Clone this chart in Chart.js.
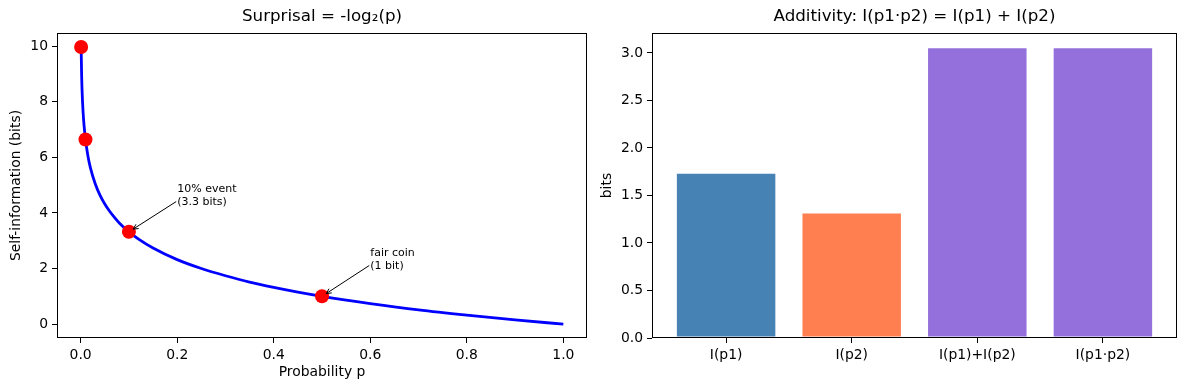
<!DOCTYPE html>
<html>
<head>
<meta charset="utf-8">
<script src="https://cdn.jsdelivr.net/npm/chart.js@4.4.1/dist/chart.umd.min.js"></script>
<style>
  html, body { margin: 0; padding: 0; background: #fff; }
  #wrap { position: relative; width: 1189px; height: 390px; }
  #left { position: absolute; left: 0; top: 0; }
  #right { position: absolute; left: 595px; top: 0; }
</style>
</head>
<body>
<div id="wrap">
  <canvas id="left" width="595" height="390"></canvas>
  <canvas id="right" width="594" height="390"></canvas>
</div>
<script>
// Left panel: surprisal curve
const probs = [0.001, 0.002, 0.003, 0.005, 0.007, 0.01, 0.015, 0.02, 0.03, 0.04, 0.05,
    0.06, 0.07, 0.08, 0.1, 0.12, 0.15, 0.2, 0.25, 0.3, 0.35, 0.4, 0.45, 0.5,
    0.6, 0.7, 0.8, 0.9, 1.0];
const surprisal = [9.97, 8.97, 8.38, 7.64, 7.16, 6.64, 6.06, 5.64, 5.06, 4.64, 4.32,
    4.06, 3.84, 3.64, 3.32, 3.06, 2.74, 2.32, 2.0, 1.74, 1.51, 1.32, 1.15, 1.0,
    0.74, 0.51, 0.32, 0.15, 0.0];

// Highlighted events
const markerProbs = [0.001, 0.01, 0.1, 0.5];
const markerBits = [9.97, 6.64, 3.32, 1.0];

// Annotations: text, text anchor (data coords), arrow target
const noteTexts = [['10% event', '(3.3 bits)'], ['fair coin', '(1 bit)']];
const noteAnchors = [[0.2, 4.3], [0.6, 2.0]];
const noteTargets = [[0.1, 3.32], [0.5, 1.0]];

// Right panel: additivity bars
const barLabels = ['I(p1)', 'I(p2)', 'I(p1)+I(p2)', 'I(p1\u00b7p2)'];
const barValues = [1.74, 1.32, 3.06, 3.06];
const barColors = ['#4682B4', '#FF7F50', '#9370DB', '#9370DB'];

const FONT = 'DejaVu Sans';
Chart.defaults.font.family = FONT;
Chart.defaults.color = '#000';

// draws the full box around the plot area, like matplotlib spines
const framePlugin = {
    id: 'frame',
    afterDatasetsDraw(chart) {
        const a = chart.chartArea;
        const ctx = chart.ctx;
        ctx.save();
        ctx.strokeStyle = '#000';
        ctx.lineWidth = 1;
        ctx.strokeRect(Math.round(a.left) + 0.5, Math.round(a.top) + 0.5,
            Math.round(a.right - a.left) - 1, Math.round(a.bottom - a.top) - 1);
        ctx.restore();
    }
};

// text + arrow annotations on the left panel
const notePlugin = {
    id: 'notes',
    afterDatasetsDraw(chart) {
        const ctx = chart.ctx;
        const xs = chart.scales.x, ys = chart.scales.y;
        ctx.save();
        ctx.font = '11px "' + FONT + '"';
        ctx.fillStyle = '#000';
        ctx.strokeStyle = '#000';
        ctx.lineWidth = 1;
        ctx.textBaseline = 'alphabetic';
        noteTexts.forEach((lines, i) => {
            const tx = xs.getPixelForValue(noteAnchors[i][0]);
            const ty = ys.getPixelForValue(noteAnchors[i][1]);
            lines.forEach((line, k) => {
                ctx.fillText(line, tx, ty - (lines.length - 1 - k) * 12.5);
            });
            const px = xs.getPixelForValue(noteTargets[i][0]);
            const py = ys.getPixelForValue(noteTargets[i][1]);
            const sx = tx - 1, sy = ty - 3;
            const dx = sx - px, dy = sy - py;
            const len = Math.hypot(dx, dy);
            const ux = dx / len, uy = dy / len;
            const ex = px + ux * 5, ey = py + uy * 5;
            ctx.beginPath();
            ctx.moveTo(sx, sy);
            ctx.lineTo(ex, ey);
            // open arrow head
            const hl = 5, hw = 2.5;
            ctx.moveTo(ex + ux * hl - uy * hw, ey + uy * hl + ux * hw);
            ctx.lineTo(ex, ey);
            ctx.lineTo(ex + ux * hl + uy * hw, ey + uy * hl - ux * hw);
            ctx.stroke();
        });
        ctx.restore();
    }
};

function axisStyle(extra) {
    return Object.assign({
        offset: false,
        grid: { display: true, offset: false, drawOnChartArea: false, drawTicks: true, tickLength: 5, color: '#000', lineWidth: 1 },
        border: { display: false },
        ticks: { font: { size: 13.9 }, padding: 4, color: '#000', includeBounds: false }
    }, extra);
}

new Chart(document.getElementById('left'), {
    type: 'scatter',
    data: {
        datasets: [
            {
                label: 'events',
                data: markerProbs.map((p, i) => ({ x: p, y: markerBits[i] })),
                pointRadius: 7,
                pointBackgroundColor: '#ff0000',
                pointBorderWidth: 0,
                order: 0
            },
            {
                label: 'surprisal',
                data: probs.map((p, i) => ({ x: p, y: surprisal[i] })),
                showLine: true,
                borderColor: '#0000ff',
                borderWidth: 2.8,
                pointRadius: 0,
                cubicInterpolationMode: 'monotone',
                order: 1
            }
        ]
    },
    options: {
        responsive: false,
        animation: false,
        layout: { padding: { left: 0, right: 8, top: 0, bottom: 0 } },
        plugins: {
            legend: { display: false },
            tooltip: { enabled: false },
            title: {
                display: true,
                fullSize: false,
                text: 'Surprisal = -log\u2082(p)',
                font: { size: 16.7, weight: 'normal' },
                color: '#000',
                padding: { top: 7, bottom: 6 }
            }
        },
        scales: {
            x: axisStyle({
                type: 'linear',
                min: -0.049,
                max: 1.049,
                afterFit: s => { s.height = 52; },
                ticks: { font: { size: 13.9 }, padding: 4, color: '#000', includeBounds: false, stepSize: 0.2, maxRotation: 0,
                    callback: v => v.toFixed(1) },
                title: { display: true, text: 'Probability p', font: { size: 13.9 }, padding: { top: 0, bottom: 9 } }
            }),
            y: axisStyle({
                type: 'linear',
                min: -0.5,
                max: 10.47,
                afterFit: s => { s.width = 57; },
                ticks: { font: { size: 13.9 }, padding: 4, color: '#000', includeBounds: false, stepSize: 2,
                    callback: v => String(v) },
                title: { display: true, text: 'Self-information (bits)', font: { size: 13.9 }, padding: { top: 8, bottom: 0 } }
            })
        }
    },
    plugins: [framePlugin, notePlugin]
});

new Chart(document.getElementById('right'), {
    type: 'bar',
    data: {
        datasets: [{
            label: 'bits',
            data: barValues.map((v, i) => ({ x: i, y: v })),
            backgroundColor: barColors,
            borderColor: 'rgba(255,255,255,0.35)',
            borderWidth: 1,
            borderSkipped: false,
            barPercentage: 0.8,
            categoryPercentage: 1.0
        }]
    },
    options: {
        responsive: false,
        animation: false,
        layout: { padding: { left: 0, right: 12, top: 0, bottom: 0 } },
        plugins: {
            legend: { display: false },
            tooltip: { enabled: false },
            title: {
                display: true,
                fullSize: false,
                text: 'Additivity: I(p1\u00b7p2) = I(p1) + I(p2)',
                font: { size: 16.7, weight: 'normal' },
                color: '#000',
                padding: { top: 7, bottom: 6 }
            }
        },
        scales: {
            x: axisStyle({
                type: 'linear',
                min: -0.59,
                max: 3.59,
                afterFit: s => { s.height = 52; },
                ticks: { font: { size: 13.9 }, padding: 4, color: '#000', includeBounds: false, stepSize: 1, maxRotation: 0,
                    callback: v => barLabels[v] !== undefined ? barLabels[v] : '' }
            }),
            y: axisStyle({
                type: 'linear',
                min: 0,
                max: 3.21,
                afterFit: s => { s.width = 57; },
                ticks: { font: { size: 13.9 }, padding: 4, color: '#000', includeBounds: false, stepSize: 0.5,
                    callback: v => v.toFixed(1) },
                title: { display: true, text: 'bits', font: { size: 13.9 }, padding: { top: 4, bottom: 0 } }
            })
        }
    },
    plugins: [framePlugin]
});
</script>
</body>
</html>
